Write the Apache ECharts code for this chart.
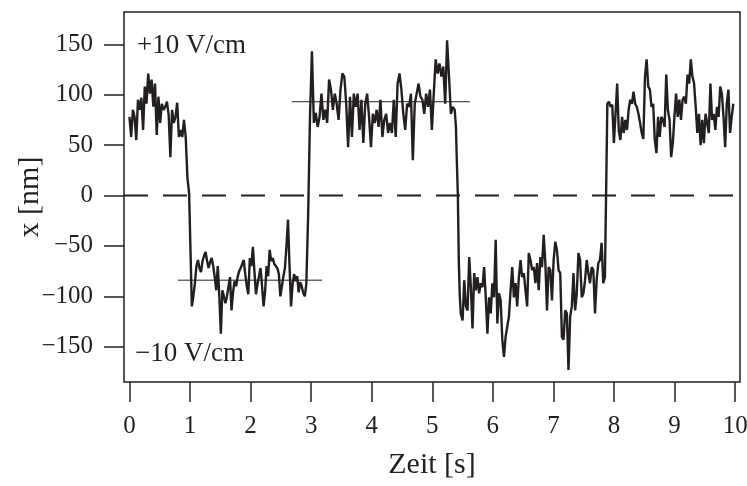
<!DOCTYPE html>
<html>
<head>
<meta charset="utf-8">
<script src="https://cdn.jsdelivr.net/npm/echarts@6.0.0/dist/echarts.min.js"></script>
<style>
html, body { margin: 0; padding: 0; background: #fff; }
#main { width: 747px; height: 486px; }
</style>
</head>
<body>
<div id="main"></div>
<script>
// trace is read segment by segment, points spread evenly inside each segment
var segTimes = [[0, 0.985], [1.03, 2.92], [2.95, 5.37], [5.39, 5.47], [5.50, 7.85], [7.89, 9.97]];

var seg1 = [78, 58, 85, 78, 55, 95, 85, 97, 65, 108, 91, 121, 101, 115, 88, 111, 60, 98, 72, 91,
  85, 88, 93, 80, 38, 85, 72, 78, 92, 58, 65, 58, 75, 58, 18, 2];
var seg2 = [-110, -100, -87, -70, -64, -72, -76, -65, -60, -56, -65, -72, -66, -62, -70, -81, -94, -70, -100, -137,
  -94, -100, -107, -100, -100, -81, -114, -96, -85, -90, -81, -75, -72, -68, -64, -78, -90, -98, -62, -70,
  -51, -75, -98, -88, -80, -72, -90, -110, -95, -70, -80, -54, -65, -62, -68, -70, -72, -78, -100, -90,
  -80, -72, -50, -24, -70, -110, -88, -78, -85, -80, -96, -86, -90, -97, -100, -88];
var seg3 = [-20, 80, 143, 72, 82, 68, 78, 101, 75, 85, 72, 115, 105, 85, 101, 91, 75, 105, 121, 118,
  91, 48, 98, 58, 101, 88, 101, 65, 95, 52, 91, 101, 78, 48, 81, 72, 85, 68, 95, 58,
  75, 81, 62, 72, 62, 95, 58, 111, 121, 105, 81, 65, 91, 88, 101, 35, 91, 101, 111, 98,
  95, 81, 101, 88, 105, 65, 101, 135, 121, 131, 118, 128, 91, 154, 118, 81, 88, 85];
var seg4 = [68, 32, 0, -67, -100, -117];
var seg5 = [-124, -84, -110, -114, -61, -91, -132, -77, -94, -81, -97, -87, -91, -71, -101, -137, -101, -117, -87, -101,
  -44, -127, -97, -104, -143, -160, -140, -140, -120, -94, -71, -101, -87, -110, -81, -64, -81, -77, -94, -110,
  -57, -64, -74, -71, -87, -67, -94, -61, -71, -39, -67, -114, -71, -74, -104, -64, -46, -54, -74, -77,
  -140, -143, -114, -117, -173, -120, -110, -77, -114, -97, -57, -64, -101, -97, -84, -64, -77, -87, -71, -74,
  -117, -84, -67, -64, -47, -87, -81];
var seg6 = [91, 93, 88, 90, 52, 81, 111, 64, 55, 78, 62, 75, 65, 85, 95, 91, 103, 91, 88, 81,
  72, 62, 56, 118, 135, 108, 105, 88, 91, 55, 42, 78, 58, 78, 75, 68, 120, 85, 75, 38,
  52, 78, 101, 78, 95, 75, 95, 98, 91, 120, 111, 135, 118, 111, 88, 62, 81, 50, 75, 52,
  81, 72, 62, 111, 75, 81, 65, 88, 78, 108, 101, 78, 48, 91, 105, 62, 78, 91];

var lowLevel = [[0.80, -84], [3.18, -84]];
var highLevel = [[2.68, 93], [5.62, 93]];
var xTicks = [0, 1, 2, 3, 4, 5, 6, 7, 8, 9, 10];
var yTicks = [-150, -100, -50, 0, 50, 100, 150];
var xRange = [-0.09, 10.08];
var yRange = [-185, 182];

var segs = [seg1, seg2, seg3, seg4, seg5, seg6];
var trace = [];
segs.forEach(function (vals, k) {
  var t0 = segTimes[k][0], t1 = segTimes[k][1];
  for (var i = 0; i < vals.length; i++) {
    trace.push([t0 + i * (t1 - t0) / (vals.length - 1), vals[i]]);
  }
});

var ink = '#231f20';
var font = 'Liberation Serif';
function minus(v) { return String(v).replace('-', '\u2212'); }

var myChart = echarts.init(document.getElementById('main'));
var option = {
  animation: false,
  backgroundColor: '#fff',
  grid: {
    left: 124, top: 12, width: 616, height: 370,
    outerBoundsMode: 'none',
    show: true, borderColor: ink, borderWidth: 1.5
  },
  xAxis: {
    type: 'value',
    min: xRange[0], max: xRange[1],
    axisLine: { show: false, onZero: false },
    splitLine: { show: false },
    axisTick: { customValues: xTicks, length: 20, lineStyle: { color: ink, width: 1.5 } },
    axisLabel: { customValues: xTicks, margin: 32, fontSize: 25, fontFamily: font, color: ink },
    name: 'Zeit [s]',
    nameLocation: 'middle',
    nameGap: 68,
    nameTextStyle: { fontSize: 30, fontFamily: font, color: ink }
  },
  yAxis: {
    type: 'value',
    min: yRange[0], max: yRange[1],
    axisLine: { show: false, onZero: false },
    splitLine: { show: false },
    axisTick: { customValues: yTicks, length: 20, lineStyle: { color: ink, width: 1.5 } },
    axisLabel: { customValues: yTicks, margin: 31, fontSize: 25, fontFamily: font, color: ink, formatter: minus },
    name: 'x [nm]',
    nameLocation: 'middle',
    nameGap: 79,
    nameMoveOverlap: false,
    nameTextStyle: { fontSize: 30, fontFamily: font, color: ink }
  },
  graphic: [
    { type: 'text', left: 137, top: 32, style: { text: '+10 V/cm', font: '27px "Liberation Serif"', fill: ink } },
    { type: 'text', left: 135, top: 340, style: { text: '\u221210 V/cm', font: '27px "Liberation Serif"', fill: ink } }
  ],
  series: [
    {
      type: 'line', data: [[xRange[0], 0], [xRange[1], 0]], symbol: 'none', silent: true,
      lineStyle: { color: ink, width: 2, type: [24, 15] }
    },
    {
      type: 'line', data: lowLevel, symbol: 'none', silent: true,
      lineStyle: { color: ink, width: 1 }
    },
    {
      type: 'line', data: highLevel, symbol: 'none', silent: true,
      lineStyle: { color: ink, width: 1 }
    },
    {
      type: 'line', data: trace, symbol: 'none',
      lineStyle: { color: ink, width: 2.4 }
    }
  ]
};
myChart.setOption(option);
</script>
</body>
</html>
